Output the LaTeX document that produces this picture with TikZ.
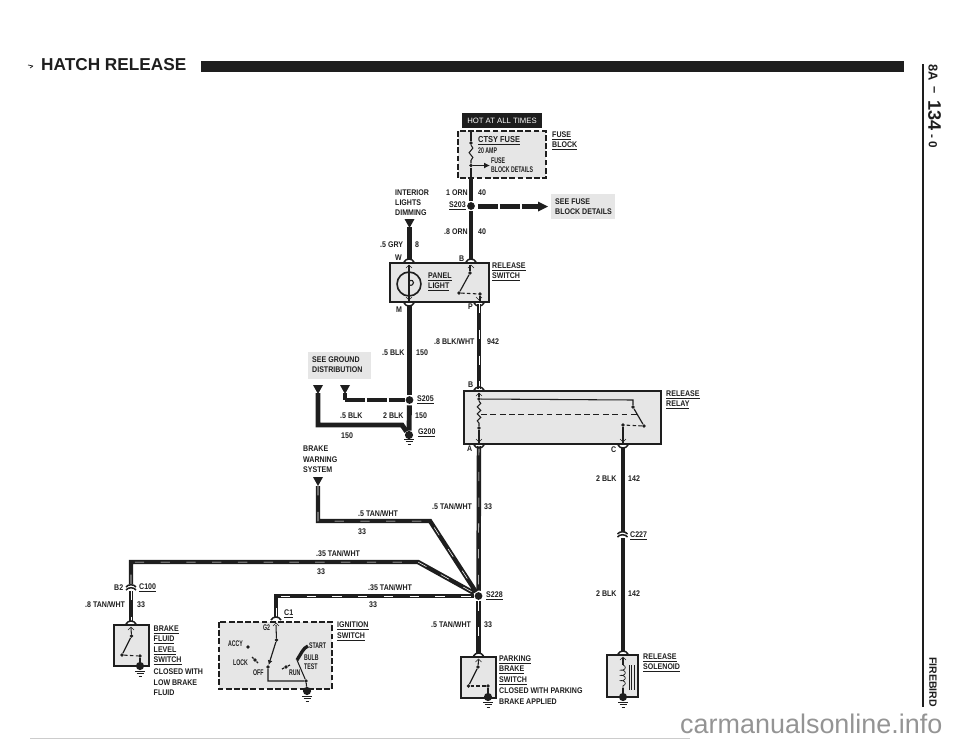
\documentclass[tikz,border=0pt]{standalone}
\usepackage{fontspec}
\setmainfont{Liberation Sans}
\usetikzlibrary{arrows.meta}
\usetikzlibrary{decorations.pathmorphing}
\definecolor{inkblack}{HTML}{1E1E1E}
\definecolor{panelgray}{HTML}{E6E6E6}
\tikzset{
  lbl/.style={font=\bfseries\fontsize{7}{8}\selectfont, xscale=.86, inner sep=0, anchor=west, text=inkblack},
  lblsmall/.style={lbl, xscale=.74},
  wire/.style={line width=4.2pt, draw=inkblack},
  tracer/.style={line width=3.8pt, draw=inkblack, postaction={draw, white, line width=.45pt, dash pattern=on 8pt off 14pt}},
  dashwire/.style={wire, dash pattern=on 17pt off 1.6pt},
  thinwire/.style={line width=.9pt, draw=inkblack},
  switchdash/.style={line width=.9pt, draw=inkblack, dash pattern=on 3pt off 2pt},
  solidbox/.style={draw=inkblack, line width=1.1pt, fill=panelgray},
  dashbox/.style={draw=inkblack, line width=1.6pt, fill=panelgray, dash pattern=on 5pt off 2pt},
  notebox/.style={fill=panelgray},
  splice/.style={circle, fill=inkblack, inner sep=0, minimum size=6.6pt},
  pindot/.style={circle, fill=inkblack, inner sep=0, minimum size=3.2pt},
  plugtop/.pic={\draw[line width=1.3pt, draw=inkblack] (-5,1) .. controls (-3,-3) and (3,-3) .. (5,1);
    \draw[thin, draw=inkblack] (-3,7) -- (0,4) -- (3,7);},
  plugmid/.pic={\draw[line width=1.3pt, draw=inkblack] (-5,-1) .. controls (-3,-4) and (3,-4) .. (5,-1);
    \draw[line width=1.3pt, draw=inkblack] (-5,2) .. controls (-3,-1) and (3,-1) .. (5,2);},
  feed/.pic={\fill[inkblack] (-5,0) -- (5,0) -- (0,9) -- cycle;},
  gnd/.pic={\draw[line width=.8pt, draw=inkblack] (-5,0) -- (5,0) (-3.5,2.5) -- (3.5,2.5) (-1.5,5) -- (1.5,5);}
}
\begin{document}
\begin{tikzpicture}[x=0.03cm, y=-0.03cm]
\useasboundingbox (0,0) rectangle (960,742);
\draw[line width=.6pt, draw=inkblack] (28,65) -- (33,66) (30,68) -- (33,66);
\node[font=\bfseries\fontsize{14.7}{16}\selectfont, inner sep=0, anchor=west, text=inkblack] (hatchTitle) at (41,65) {HATCH RELEASE};
\fill[inkblack] (201,61) rectangle (904,72);
\draw[line width=.9pt, draw=inkblack] (923,64) -- (923,707);
\node[rotate=-90, anchor=west, inner sep=0, font=\bfseries\fontsize{11}{12}\selectfont, text=inkblack] (pageA) at (933,64) {8A};
\node[rotate=-90, anchor=west, inner sep=0, font=\bfseries\fontsize{11}{12}\selectfont, text=inkblack] (pageDash) at (933,86) {--};
\node[rotate=-90, anchor=west, inner sep=0, font=\bfseries\fontsize{15.5}{16}\selectfont, text=inkblack] (pageNum) at (934.5,100) {134};
\node[rotate=-90, anchor=west, inner sep=0, font=\bfseries\fontsize{10}{12}\selectfont, text=inkblack] (pageRev) at (933,134) {- 0};
\node[rotate=-90, anchor=west, inner sep=0, font=\bfseries\fontsize{9}{10}\selectfont, text=inkblack] (pageCar) at (933,657) {FIREBIRD};
\node[anchor=base west, inner sep=0, font=\fontsize{23}{24}\selectfont, text=black!42] (siteMark) at (680,733) {carmanualsonline.info};
\draw[line width=.8pt, draw=black!20] (30,738) -- (690,738);

\node[fill=inkblack, minimum width=80*0.85pt, minimum height=15*0.85pt, inner sep=0, text=white, font=\fontsize{6.6}{7}\selectfont] (hotBox) at (502,120.5) {HOT AT ALL TIMES};
\draw[dashbox] (458,131) rectangle (546,178);
\coordinate (fuseTop) at (471,131);
\coordinate (fuseBot) at (471,178);
\coordinate (fuseArrow) at (490,165.5);
\node[pindot] (fuseIn) at (471,143) {};
\node[pindot] (fuseOut) at (471,165.5) {};
\draw[thinwire] (fuseTop) -- (fuseIn);
\draw[thinwire, decorate, decoration={snake, amplitude=1.6pt, segment length=8pt}] (fuseIn) -- (fuseOut);
\draw[thinwire] (fuseOut) -- (fuseBot);
\draw[thinwire, -{Latex[length=5pt,width=5pt]}] (fuseOut) -- (fuseArrow);
\node[lbl, font=\bfseries\fontsize{7.4}{8}\selectfont] (ctsyLabel) at (478,141) {\underline{CTSY FUSE}};
\node[lblsmall] (ampLabel) at (478,151) {20 AMP};
\node[lblsmall] (fuseNote) at (491,161) {FUSE};
\node[lblsmall] (fuseNoteB) at (491,170) {BLOCK DETAILS};
\node[lbl] (fuseLabel) at (552,136) {\underline{FUSE}};
\node[lbl] (blockLabel) at (552,146) {\underline{BLOCK}};

\node[lbl] (intLabel) at (395,193) {INTERIOR};
\node[lbl] (lightsLabel) at (395,203) {LIGHTS};
\node[lbl] (dimLabel) at (395,213) {DIMMING};
\node[lbl] (oneOrn) at (446,193) {1 ORN};
\node[lbl] (oneOrnNo) at (478,193) {40};
\node[lbl] (s203Label) at (449,206) {\underline{S203}};
\node[lbl] (eightOrn) at (444,232) {.8 ORN};
\node[lbl] (eightOrnNo) at (478,232) {40};
\node[lbl] (gryLabel) at (380,245) {.5 GRY};
\node[lbl] (gryNo) at (415,245) {8};
\node[lbl] (wPin) at (395,258) {W};
\node[lbl] (bPin) at (459,259) {B};

\node[splice] (s203) at (471,206) {};
\draw[wire, shorten >=1pt] (fuseBot) -- (s203);
\coordinate (orn) at (471,260);
\draw[wire, shorten <=1pt] (s203) -- (orn);
\coordinate (fuseSee) at (548,206.5);
\coordinate (s203Right) at (478,206.5);
\draw[dashwire] (s203Right) -- (540,206.5);
\fill[inkblack] (538,201.5) -- (fuseSee) -- (538,211.5) -- cycle;
\node[notebox, minimum width=64*0.85pt, minimum height=25*0.85pt] (seeFuse) at (583,206.5) {};
\node[lbl] (seeFuseA) at (555,202) {SEE FUSE};
\node[lbl] (seeFuseB) at (555,212) {BLOCK DETAILS};

\pic at (409.5,219) {feed};
\coordinate (gryTop) at (409.5,227);
\coordinate (gryBot) at (409.5,260);
\draw[wire] (gryTop) -- (gryBot);

\draw[solidbox] (390,263) rectangle (489,302);
\pic at (409,261) {plugtop};
\pic at (471,261) {plugtop};
\pic[yscale=-1] at (409,304) {plugtop};
\pic[yscale=-1] at (479,304) {plugtop};
\node[draw=inkblack, line width=1.4pt, circle, minimum size=24*0.85pt, inner sep=0] (panelLamp) at (409,284) {};
\coordinate (lampTop) at (409,265);
\coordinate (lampBot) at (409,301);
\draw[thinwire] (lampTop) -- (lampBot);
\draw[thinwire] (409,281) .. controls (415,278) and (415,287) .. (409,285);
\node[lbl] (panelLabel) at (428,277) {\underline{PANEL}};
\node[lbl] (lightLabel) at (428,287) {\underline{LIGHT}};
\node[pindot] (swHigh) at (470,273) {};
\node[pindot] (swPivot) at (459,293) {};
\node[pindot] (swLow) at (480,294) {};
\coordinate (swTop) at (470,265);
\coordinate (swBot) at (480,301);
\draw[thinwire] (swTop) -- (swHigh);
\draw[line width=1pt, draw=inkblack] (swHigh) -- (swPivot);
\draw[switchdash] (swPivot) -- (swLow);
\draw[thinwire] (swLow) -- (swBot);
\node[lbl] (relSwA) at (492,267) {\underline{RELEASE}};
\node[lbl] (relSwB) at (492,277) {\underline{SWITCH}};
\node[lbl] (mPin) at (396,310) {M};
\node[lbl] (pPin) at (468,307) {P};

\node[lbl] (blkWht) at (434,342) {.8 BLK/WHT};
\node[lbl] (blkWhtNo) at (487,342) {942};
\node[lbl] (blkA) at (382,353) {.5 BLK};
\node[lbl] (blkANo) at (416,353) {150};
\node[notebox, minimum width=63*0.85pt, minimum height=27*0.85pt] (seeGround) at (339.5,365.5) {};
\node[lbl] (seeGroundA) at (312,360) {SEE GROUND};
\node[lbl] (seeGroundB) at (312,370) {DISTRIBUTION};
\pic at (318,385) {feed};
\pic at (345,385) {feed};
\node[splice] (s205) at (409.5,400) {};
\node[splice, minimum size=7pt] (g200) at (409,435) {};
\coordinate (mBot) at (409.5,305);
\coordinate (gndFeedA) at (318,393);
\coordinate (gndFeedB) at (345,393);
\coordinate (gndBendA) at (318,425);
\coordinate (gndBendB) at (402,425);
\coordinate (gndBendC) at (345,400);
\draw[wire, shorten >=1pt] (mBot) -- (s205);
\draw[wire, shorten <=1pt] (s205) -- (g200);
\draw[wire] (gndFeedA) -- (gndBendA) -- (gndBendB) -- (g200);
\draw[wire] (gndFeedB) -- (gndBendC);
\draw[dashwire] (gndBendC) -- (s205);
\pic at (409,439) {gnd};
\node[lbl] (s205Label) at (417,400) {\underline{S205}};
\node[lbl] (blkB) at (340,416) {.5 BLK};
\node[lbl] (blkC) at (383,416) {2 BLK};
\node[lbl] (blkCNo) at (415,416) {150};
\node[lbl] (blkBNo) at (341,436) {150};
\node[lbl] (g200Label) at (418,433) {\underline{G200}};

\draw[solidbox, line width=.9pt] (464,391) rectangle (661,444);
\coordinate (pBot) at (479,304);
\coordinate (bTop) at (479,389);
\coordinate (aBot) at (479,446);
\node[splice] (s228) at (478.5,596) {};
\draw[tracer] (pBot) -- (bTop);
\draw[tracer, shorten >=1pt] (aBot) -- (s228);
\pic at (479,389) {plugtop};
\pic[yscale=-1] at (479,446) {plugtop};
\pic[yscale=-1] at (623,446) {plugtop};
\node[lbl] (bPinB) at (468,385) {B};
\node[lbl] (aPin) at (467,449) {A};
\node[lbl] (cPin) at (611,450) {C};
\node[pindot] (coilTop) at (479,399) {};
\node[pindot] (coilBot) at (479,428) {};
\node[pindot] (relHigh) at (633,407) {};
\node[pindot] (relPivot) at (644,426) {};
\node[pindot] (relLow) at (623,425) {};
\coordinate (relIn) at (479,393);
\coordinate (relOut) at (479,443);
\coordinate (relOutC) at (623,443);
\coordinate (relCorner) at (633,400);
\coordinate (relBarA) at (481,414);
\coordinate (relBarB) at (638,414);
\draw[thinwire] (relIn) -- (coilTop);
\draw[thinwire] (coilTop) -- (relCorner) -- (relHigh);
\draw[thinwire, decorate, decoration={snake, amplitude=1.5pt, segment length=6pt}] (coilTop) -- (coilBot);
\draw[thinwire] (coilBot) -- (relOut);
\draw[line width=1pt, draw=inkblack] (relHigh) -- (relPivot);
\draw[switchdash] (relPivot) -- (relLow);
\draw[thinwire] (relLow) -- (relOutC);
\draw[draw=inkblack, line width=.8pt, dash pattern=on 5pt off 3pt] (relBarA) -- (relBarB);
\node[lbl] (relRelA) at (666,395) {\underline{RELEASE}};
\node[lbl] (relRelB) at (666,405) {\underline{RELAY}};

\coordinate (cBot) at (623,448);
\coordinate (c227Top) at (623,532);
\coordinate (c227Bot) at (623,538);
\coordinate (solTop) at (623,652);
\draw[wire] (cBot) -- (c227Top);
\draw[wire] (c227Bot) -- (solTop);
\pic at (622.5,535) {plugmid};
\node[lbl] (blkD) at (596,479) {2 BLK};
\node[lbl] (blkDNo) at (628,479) {142};
\node[lbl] (c227Label) at (630,536) {\underline{C227}};
\node[lbl] (blkE) at (596,594) {2 BLK};
\node[lbl] (blkENo) at (628,594) {142};

\draw[solidbox] (607,655) rectangle (638,697);
\pic at (623,653) {plugtop};
\node[splice, minimum size=7pt] (solGnd) at (623,697) {};
\coordinate (solCoilA) at (623,665);
\coordinate (solCoilB) at (623,688);
\coordinate (solIn) at (623,658);
\draw[thinwire] (solIn) -- (solCoilA);
\draw[line width=.6pt, draw=inkblack, decorate, decoration={coil, aspect=.5, amplitude=2pt, segment length=4.5pt}] (solCoilA) -- (solCoilB);
\draw[thinwire] (solCoilB) -- (solGnd);
\draw[line width=.5pt, draw=inkblack] (629,665) -- (629,690) (631.5,665) -- (631.5,690) (634,665) -- (634,690);
\pic at (623,702) {gnd};
\node[lbl] (solA) at (643,658) {\underline{RELEASE}};
\node[lbl] (solB) at (643,668) {\underline{SOLENOID}};

\node[lbl] (brakeA) at (303,449) {BRAKE};
\node[lbl] (brakeB) at (303,460) {WARNING};
\node[lbl] (brakeC) at (303,470) {SYSTEM};
\pic at (318,477) {feed};
\coordinate (warnFeed) at (318,486);
\coordinate (warnBend) at (318,521);
\coordinate (warnKnee) at (430,521);
\coordinate (hubA) at (476,592);
\draw[tracer] (warnFeed) -- (warnBend) -- (warnKnee) -- (hubA);
\node[lbl] (tanA) at (358,514) {.5 TAN/WHT};
\node[lbl] (tanANo) at (358,532) {33};
\node[lbl] (tanB) at (432,507) {.5 TAN/WHT};
\node[lbl] (tanBNo) at (484,507) {33};

\coordinate (longFeed) at (131,584);
\coordinate (longBend) at (131,562);
\coordinate (longKnee) at (418,562);
\coordinate (hubB) at (474,593);
\draw[tracer] (longFeed) -- (longBend) -- (longKnee) -- (hubB);
\node[lbl] (tanC) at (316,554) {.35 TAN/WHT};
\node[lbl] (tanCNo) at (317,572) {33};
\coordinate (ignFeed) at (276,617);
\coordinate (ignBend) at (276,596);
\draw[tracer] (ignFeed) -- (ignBend) -- (s228);
\node[lbl] (tanD) at (368,588) {.35 TAN/WHT};
\node[lbl] (tanDNo) at (369,605) {33};
\node[lbl] (s228Label) at (486,596) {\underline{S228}};

\coordinate (c100Top) at (131,591);
\coordinate (brakeTop) at (131,622);
\draw[tracer] (c100Top) -- (brakeTop);
\pic at (131,588) {plugmid};
\node[lbl] (b2Pin) at (114,588) {B2};
\node[lbl] (c100Label) at (139,588) {\underline{C100}};
\node[lbl] (tanE) at (85,605) {.8 TAN/WHT};
\node[lbl] (tanENo) at (137,605) {33};
\draw[solidbox] (114,625) rectangle (149,666);
\pic at (131,623) {plugtop};
\node[pindot] (brkHigh) at (131.5,636) {};
\node[pindot] (brkPivot) at (122,655) {};
\node[pindot] (brkLow) at (140,656) {};
\node[splice, minimum size=7pt] (brkGnd) at (140,666) {};
\coordinate (brkIn) at (131,628);
\draw[thinwire] (brkIn) -- (brkHigh);
\draw[line width=1pt, draw=inkblack] (brkHigh) -- (brkPivot);
\draw[switchdash] (brkPivot) -- (brkLow);
\draw[thinwire] (brkLow) -- (brkGnd);
\pic at (140,671) {gnd};
\node[lbl] (brkA) at (153.5,630) {\underline{BRAKE}};
\node[lbl] (brkB) at (153.5,640) {\underline{FLUID}};
\node[lbl] (brkC) at (153.5,651) {\underline{LEVEL}};
\node[lbl] (brkD) at (153.5,661) {\underline{SWITCH}};
\node[lbl] (brkE) at (153.5,672) {CLOSED WITH};
\node[lbl] (brkF) at (153.5,683) {LOW BRAKE};
\node[lbl] (brkG) at (153.5,693) {FLUID};

\draw[dashbox] (219,622) rectangle (332,689);
\pic at (276,619) {plugtop};
\node[lbl] (c1Label) at (284,614) {\underline{C1}};
\node[lblsmall] (g2Pin) at (263,628) {G2};
\node[lblsmall] (accyLabel) at (228,644) {ACCY};
\node[lblsmall] (lockLabel) at (233,663) {LOCK};
\node[lblsmall] (offLabel) at (253,673) {OFF};
\node[lblsmall] (runLabel) at (289,673) {RUN};
\node[lblsmall] (startLabel) at (309,646) {START};
\node[lblsmall] (bulbLabel) at (304,658) {BULB};
\node[lblsmall] (testLabel) at (304,667) {TEST};
\node[pindot] (ignHigh) at (276.5,640) {};
\node[pindot] (ignPivot) at (268,667) {};
\node[pindot] (ignAccy) at (248,647) {};
\node[pindot] (ignLock) at (255,660) {};
\node[pindot] (ignRun) at (286,667) {};
\node[pindot] (ignCommon) at (306,681) {};
\node[splice, minimum size=7pt] (ignGnd) at (307,691) {};
\coordinate (ignIn) at (276,625);
\coordinate (ignCorner) at (268,681);
\coordinate (ignStart) at (308,646);
\coordinate (ignBulb) at (297,660);
\draw[thinwire] (ignIn) -- (ignHigh);
\draw[line width=1pt, draw=inkblack, -{Latex[length=4pt,width=4pt]}] (ignHigh) -- (ignPivot);
\draw[thinwire] (ignPivot) -- (ignCorner) -- (ignCommon) -- (ignBulb);
\draw[thinwire] (ignCommon) -- (ignGnd);
\draw[line width=2.8pt, draw=inkblack] (ignStart) .. controls (303,648) and (301,654) .. (ignBulb);
\draw[line width=1pt, draw=inkblack] (ignLock) -- ++(-3,-3) (ignLock) -- ++(3,3);
\draw[line width=1pt, draw=inkblack] (ignRun) -- ++(-4,2) (ignRun) -- ++(4,-2);
\pic at (307,696) {gnd};
\node[lbl] (ignA) at (337,626) {\underline{IGNITION}};
\node[lbl] (ignB) at (337,637) {\underline{SWITCH}};

\coordinate (parkTop) at (478.5,653);
\draw[tracer, shorten <=1pt] (s228) -- (parkTop);
\draw[solidbox, line width=.9pt] (461,657) rectangle (496,698);
\pic at (478.5,655) {plugtop};
\node[pindot] (parkHigh) at (478,667) {};
\node[pindot] (parkPivot) at (468.5,686) {};
\node[pindot] (parkLow) at (488,686) {};
\node[splice, minimum size=7pt] (parkGnd) at (488,697) {};
\coordinate (parkIn) at (478.5,660);
\draw[thinwire] (parkIn) -- (parkHigh);
\draw[line width=1pt, draw=inkblack] (parkHigh) -- (parkPivot);
\draw[switchdash] (parkPivot) -- (parkLow);
\draw[thinwire] (parkLow) -- (parkGnd);
\pic at (488,702) {gnd};
\node[lbl] (tanF) at (431,625) {.5 TAN/WHT};
\node[lbl] (tanFNo) at (484,625) {33};
\node[lbl] (parkA) at (499,660) {\underline{PARKING}};
\node[lbl] (parkB) at (499,670) {\underline{BRAKE}};
\node[lbl] (parkC) at (499,681) {\underline{SWITCH}};
\node[lbl] (parkD) at (499,691) {CLOSED WITH PARKING};
\node[lbl] (parkE) at (499,702) {BRAKE APPLIED};
\end{tikzpicture}
\end{document}
